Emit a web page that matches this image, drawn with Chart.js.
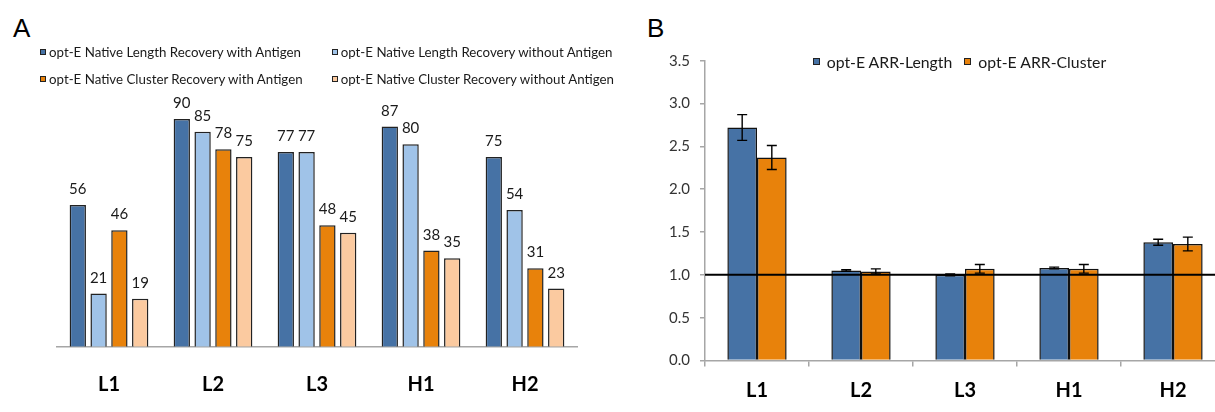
<!DOCTYPE html>
<html>
<head>
<meta charset="utf-8">
<script src="https://cdn.jsdelivr.net/npm/chart.js@4.4.1/dist/chart.umd.min.js"></script>
<style>
  html, body { margin: 0; padding: 0; width: 1215px; height: 412px; overflow: hidden; background: #fff; }
  body { position: relative; font-family: Lato, sans-serif; color: #1a1a1a; }
  .panel { position: absolute; top: 0; height: 420px; }
  #panelA { left: 0; width: 620px; }
  #panelB { left: 620px; width: 620px; }
  .letter { position: absolute; font-family: "Liberation Sans", Arial, sans-serif; font-size: 26px; line-height: 26px; color: #000; }
  .legend { position: absolute; }
  .item { display: flex; align-items: center; height: 16px; white-space: nowrap; }
  .sw { box-sizing: border-box; border: 1px solid #222; flex: none; }
  #legendA { left: 40px; top: 44px; display: grid; grid-template-columns: 291.7px auto; row-gap: 11px; font-size: 13.3px; }
  #legendA .sw { width: 6px; height: 6px; margin-right: 3px; }
  #legendB { left: 812.7px; top: 53px; display: flex; font-size: 15.8px; }
  #legendB .sw { width: 7px; height: 7px; margin-right: 7px; }
  #legendB .item + .item { margin-left: 12px; }
</style>
</head>
<body>
<div class="letter" style="left:13px; top:14.6px;">A</div>
<div class="letter" style="left:647px; top:14.6px;">B</div>
<div class="panel" id="panelA"><canvas id="chartA" width="620" height="420"></canvas></div>
<div class="panel" id="panelB"><canvas id="chartB" width="620" height="420"></canvas></div>
<div class="legend" id="legendA"></div>
<div class="legend" id="legendB"></div>
<script>
// Panel A: native recovery (%)
const categories = ["L1", "L2", "L3", "H1", "H2"];
const lengthWithAntigen = [56, 90, 77, 87, 75];
const lengthWithoutAntigen = [21, 85, 77, 80, 54];
const clusterWithAntigen = [46, 78, 48, 38, 31];
const clusterWithoutAntigen = [19, 75, 45, 35, 23];

// Panel B: ARR with error bars
const arrLength = [2.72, 1.05, 1.00, 1.08, 1.38];
const arrLengthErr = [0.15, 0.01, 0.01, 0.01, 0.035];
const arrCluster = [2.37, 1.04, 1.07, 1.07, 1.36];
const arrClusterErr = [0.14, 0.03, 0.05, 0.05, 0.08];
const arrTicks = [0, 0.5, 1.0, 1.5, 2.0, 2.5, 3.0, 3.5];
const arrRefLine = 1.0;

const DARK_BLUE = "#4672a5";
const LIGHT_BLUE = "#a0c3e8";
const ORANGE = "#e8820b";
const PEACH = "#fbcaa0";
const EDGE = "#222";
const AXIS_GRAY = "#a6a6a6";

const labelFont = { family: "Lato", size: 20, weight: "bold" };

const valueLabels = {
  id: "valueLabels",
  afterDatasetsDraw(chart) {
    const ctx = chart.ctx;
    ctx.save();
    ctx.font = "15px Lato";
    ctx.fillStyle = "#1a1a1a";
    ctx.textAlign = "center";
    ctx.textBaseline = "alphabetic";
    chart.data.datasets.forEach((ds, i) => {
      chart.getDatasetMeta(i).data.forEach((bar, j) => {
        ctx.fillText(String(ds.data[j]), bar.x, bar.y - 11);
      });
    });
    ctx.restore();
  }
};

const errorBars = {
  id: "errorBars",
  afterDatasetsDraw(chart) {
    const ctx = chart.ctx;
    const y = chart.scales.y;
    const area = chart.chartArea;
    ctx.save();
    // reference line at 1.0
    const yRef = y.getPixelForValue(arrRefLine);
    ctx.strokeStyle = "#000";
    ctx.lineWidth = 2;
    ctx.beginPath();
    ctx.moveTo(area.left, yRef);
    ctx.lineTo(area.right, yRef);
    ctx.stroke();

    ctx.lineWidth = 1.4;
    chart.data.datasets.forEach((ds, i) => {
      chart.getDatasetMeta(i).data.forEach((bar, j) => {
        const v = ds.data[j], e = ds.errors[j];
        const top = y.getPixelForValue(v + e);
        const bot = y.getPixelForValue(v - e);
        ctx.beginPath();
        ctx.moveTo(bar.x, top); ctx.lineTo(bar.x, bot);
        ctx.moveTo(bar.x - 5, top); ctx.lineTo(bar.x + 5, top);
        ctx.moveTo(bar.x - 5, bot); ctx.lineTo(bar.x + 5, bot);
        ctx.stroke();
      });
    });
    ctx.restore();
  }
};

const chartA = new Chart(document.getElementById("chartA"), {
  type: "bar",
  data: {
    labels: categories,
    datasets: [
      { label: "opt-E Native Length Recovery with Antigen", data: lengthWithAntigen, backgroundColor: DARK_BLUE },
      { label: "opt-E Native Length Recovery without Antigen", data: lengthWithoutAntigen, backgroundColor: LIGHT_BLUE },
      { label: "opt-E Native Cluster Recovery with Antigen", data: clusterWithAntigen, backgroundColor: ORANGE },
      { label: "opt-E Native Cluster Recovery without Antigen", data: clusterWithoutAntigen, backgroundColor: PEACH }
    ].map(d => Object.assign(d, { borderColor: EDGE, borderWidth: 1.5, categoryPercentage: 0.8, barPercentage: 0.785 }))
  },
  options: {
    responsive: false,
    animation: false,
    layout: { padding: { left: 57, right: 43, top: 93.7, bottom: 5.3 } },
    plugins: { legend: { display: false }, tooltip: { enabled: false } },
    scales: {
      x: {
        grid: { display: false },
        border: { display: true, color: AXIS_GRAY, width: 1.5 },
        ticks: { font: labelFont, color: "#000", padding: 18 }
      },
      y: { display: false, min: 0, max: 100 }
    }
  },
  plugins: [valueLabels]
});

const chartB = new Chart(document.getElementById("chartB"), {
  type: "bar",
  data: {
    labels: categories,
    datasets: [
      { label: "opt-E ARR-Length", data: arrLength, errors: arrLengthErr, backgroundColor: DARK_BLUE },
      { label: "opt-E ARR-Cluster", data: arrCluster, errors: arrClusterErr, backgroundColor: ORANGE }
    ].map(d => Object.assign(d, { borderColor: "#111", borderWidth: 1.5, categoryPercentage: 0.57, barPercentage: 1.0 }))
  },
  options: {
    responsive: false,
    animation: false,
    layout: { padding: { left: 0, right: 15, top: 60.7, bottom: 5.5 } },
    plugins: { legend: { display: false }, tooltip: { enabled: false } },
    scales: {
      x: {
        grid: { display: true, drawOnChartArea: false, drawTicks: true, tickLength: 6, color: AXIS_GRAY, lineWidth: 1.5, offset: true },
        border: { display: true, color: AXIS_GRAY, width: 1.5 },
        ticks: { font: labelFont, color: "#000", padding: 12 }
      },
      y: {
        min: 0,
        max: 3.5,
        afterBuildTicks: (s) => { s.ticks = arrTicks.map(v => ({ value: v })); },
        afterFit: (s) => { s.width = 85; },
        grid: { drawOnChartArea: false, drawTicks: true, tickLength: 5, color: AXIS_GRAY, lineWidth: 1.5 },
        border: { display: true, color: AXIS_GRAY, width: 1.5 },
        ticks: { font: { family: "Lato", size: 15 }, color: "#333", padding: 10, callback: (v) => Number(v).toFixed(1) }
      }
    }
  },
  plugins: [errorBars]
});

// HTML legends built from the chart datasets
function buildLegend(chart, el) {
  chart.data.datasets.forEach((ds) => {
    const item = document.createElement("div");
    item.className = "item";
    const sw = document.createElement("span");
    sw.className = "sw";
    sw.style.background = ds.backgroundColor;
    const txt = document.createElement("span");
    txt.textContent = ds.label;
    item.appendChild(sw);
    item.appendChild(txt);
    el.appendChild(item);
  });
}
buildLegend(chartA, document.getElementById("legendA"));
buildLegend(chartB, document.getElementById("legendB"));
</script>
</body>
</html>
